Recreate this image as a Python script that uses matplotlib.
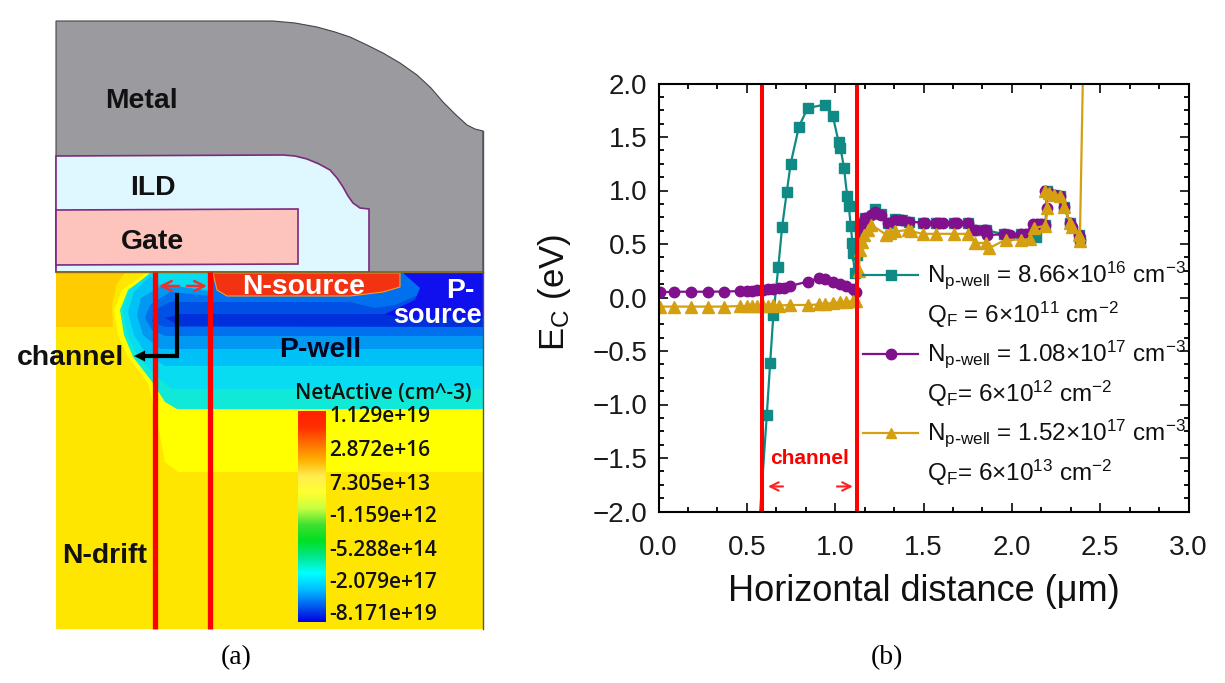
import numpy as np
import matplotlib
matplotlib.use('Agg')
import matplotlib.pyplot as plt
from matplotlib.colors import LinearSegmentedColormap
from matplotlib.patches import Polygon
from matplotlib.ticker import MultipleLocator

plt.rcParams['font.family'] = ['Liberation Sans', 'DejaVu Sans']
plt.rcParams['mathtext.default'] = 'regular'

# panel (b): conduction band edge along the channel cut
teal_x = [0.567, 0.613, 0.632, 0.65, 0.678, 0.70, 0.726, 0.748, 0.795, 0.844, 0.94, 0.987, 1.02, 1.03, 1.05,
          1.068, 1.077, 1.088, 1.098, 1.10, 1.11, 1.125, 1.14, 1.167, 1.224, 1.26, 1.30, 1.336, 1.38, 1.42,
          1.495, 1.57, 1.675, 1.75, 1.79, 1.855, 1.957, 2.05, 2.136, 2.165, 2.19, 2.20, 2.24, 2.27, 2.295,
          2.33, 2.38, 2.385]
teal_y = [-2.2, -1.10, -0.61, -0.164, 0.283, 0.663, 0.985, 1.25, 1.597, 1.77, 1.803, 1.694, 1.45, 1.40, 1.21,
          0.948, 0.857, 0.67, 0.508, 0.417, 0.232, 0.40, 0.62, 0.74, 0.826, 0.78, 0.70, 0.73, 0.72, 0.71,
          0.70, 0.70, 0.70, 0.70, 0.63, 0.63, 0.59, 0.595, 0.57, 0.69, 0.68, 1.00, 0.96, 0.945, 0.85,
          0.695, 0.585, 0.54]

purple_x = [0.01, 0.09, 0.186, 0.28, 0.37, 0.46, 0.50, 0.53, 0.56, 0.59, 0.62, 0.65, 0.68, 0.71, 0.745,
            0.844, 0.91, 0.94, 0.987, 1.03, 1.064, 1.10, 1.12, 1.14, 1.15, 1.167, 1.20, 1.224, 1.26, 1.30,
            1.336, 1.38, 1.42, 1.495, 1.51, 1.57, 1.59, 1.61, 1.675, 1.69, 1.75, 1.79, 1.84, 1.855, 1.86,
            1.957, 1.99, 2.05, 2.08, 2.117, 2.14, 2.165, 2.19, 2.20, 2.19, 2.21, 2.24, 2.27, 2.295, 2.33,
            2.34, 2.38, 2.385]
purple_y = [0.05, 0.054, 0.054, 0.054, 0.056, 0.06, 0.065, 0.065, 0.07, 0.07, 0.075, 0.08, 0.085, 0.09, 0.108,
            0.148, 0.18, 0.175, 0.148, 0.125, 0.108, 0.077, 0.054, 0.66, 0.70, 0.74, 0.77, 0.795, 0.77, 0.695,
            0.726, 0.72, 0.71, 0.70, 0.70, 0.70, 0.70, 0.70, 0.70, 0.70, 0.70, 0.63, 0.63, 0.63, 0.585,
            0.59, 0.585, 0.595, 0.595, 0.69, 0.69, 0.69, 0.68, 0.84, 1.00, 0.98, 0.96, 0.945, 0.85, 0.695,
            0.66, 0.585, 0.54]

gold_x = [0.01, 0.09, 0.186, 0.28, 0.37, 0.46, 0.50, 0.53, 0.56, 0.59, 0.62, 0.65, 0.68, 0.745,
          0.844, 0.91, 0.94, 0.987, 1.03, 1.064, 1.10, 1.12, 1.135, 1.14, 1.15, 1.165, 1.185, 1.205, 1.29,
          1.31, 1.336, 1.41, 1.43, 1.495, 1.57, 1.675, 1.75, 1.79, 1.855, 1.87, 1.965, 2.05, 2.10, 2.125,
          2.19, 2.20, 2.19, 2.21, 2.24, 2.27, 2.295, 2.33, 2.34, 2.38, 2.385, 2.405]
gold_y = [-0.085, -0.085, -0.085, -0.085, -0.085, -0.08, -0.08, -0.075, -0.08, -0.075, -0.075, -0.07, -0.075, -0.07,
          -0.07, -0.065, -0.06, -0.05, -0.045, -0.04, -0.035, -0.03, 0.25, 0.445, 0.52, 0.58, 0.63, 0.68, 0.585,
          0.60, 0.617, 0.63, 0.62, 0.595, 0.595, 0.595, 0.595, 0.51, 0.51, 0.46, 0.54, 0.54, 0.545, 0.65,
          0.67, 0.84, 1.00, 0.98, 0.96, 0.945, 0.85, 0.695, 0.66, 0.585, 0.53, 2.3]

channel_edges = [0.587, 1.122]
legend_n = ['8.66', '1.08', '1.52']
legend_exp = ['16', '17', '17']
legend_qf = ['Q$_{F}$ = 6×10$^{11}$ cm$^{-2}$', 'Q$_{F}$= 6×10$^{12}$ cm$^{-2}$', 'Q$_{F}$= 6×10$^{13}$ cm$^{-2}$']

# panel (a): device cross section outlines, in image pixels
metal_outline = [(56, 21), (273, 21), (295, 23), (317, 27), (335, 32), (350, 37), (367, 45), (383, 53), (400, 63),
                 (417, 75), (431, 88), (443, 102), (455, 114), (467, 125), (475, 129), (483, 131), (483, 272), (56, 272)]
ild_outline = [(56, 156), (283, 155), (295, 156), (307, 159), (319, 164), (330, 170), (337, 178), (343, 187),
               (348, 196), (353, 203), (360, 208), (369, 209), (369, 272), (56, 272)]
gate_outline = [(56, 210), (298, 209), (298, 264), (56, 265)]
light_yellow = [(483, 273), (483, 472), (178, 472), (165, 462), (157, 420), (148, 383), (128, 357), (118, 335),
                (114, 310), (122, 290), (146, 273)]
drift_orange = [(56, 273), (125, 273), (116, 285), (112, 305), (113, 327), (56, 327)]
well_layers = [
    ('#10e8d8', [(151, 273), (128, 290), (120, 310), (124, 335), (133, 357), (153, 383), (165, 402), (177, 409),
                 (483, 409), (483, 273)]),
    ('#08dcf0', [(150, 273), (130, 290), (123, 310), (128, 335), (138, 357), (158, 378), (172, 389),
                 (483, 389), (483, 273)]),
    ('#00c0f8', [(150, 276), (134, 292), (128, 312), (134, 335), (146, 354), (165, 366), (483, 366), (483, 273),
                 (212, 273), (212, 290), (160, 285)]),
    ('#0098f0', [(165, 284), (141, 298), (137, 315), (143, 335), (160, 349), (483, 349), (483, 273), (212, 273),
                 (212, 292)]),
    ('#0070ee', [(170, 292), (150, 305), (145, 318), (152, 330), (165, 336), (483, 336), (483, 273), (212, 273),
                 (212, 296)]),
    ('#0050e6', [(170, 302), (154, 310), (152, 322), (165, 327), (483, 327), (483, 290), (350, 302)]),
    ('#0030dc', [(180, 314), (165, 318), (180, 326), (483, 327), (483, 295), (420, 314)]),
]
p_source_blue = [(403, 273), (483, 273), (483, 318), (400, 318), (385, 314), (415, 300), (420, 288)]
p_source_mid = [(398, 273), (420, 273), (425, 292), (395, 305), (375, 308), (350, 302), (385, 293)]
n_source = [(213, 273), (400, 273), (400, 287), (383, 292), (350, 296), (227, 296), (217, 290)]
colorbar_stops = ['#ff2000', '#ff3000', '#ff7000', '#ffb000', '#ffee50', '#ffff30', '#c8ff40', '#40e030', '#00e020',
                  '#00e890', '#00ffff', '#00c0ff', '#0060f0', '#0000e0']
colorbar_labels = ['1.129e+19', '2.872e+16', '7.305e+13', '-1.159e+12', '-5.288e+14', '-2.079e+17', '-8.171e+19']
colorbar_label_y = [417, 451, 484, 517, 550, 582, 615]

fig = plt.figure(figsize=(12.25, 6.83), dpi=100)

ax_a = fig.add_axes([0, 0, 1, 1])
ax_a.set_axis_off()

ax_a.add_patch(Polygon(metal_outline, fc='#9b9b9f', ec='#444448', lw=0.8))
ax_a.add_patch(Polygon(ild_outline, fc='#dff7ff', ec='#7a2a80', lw=1.2))
ax_a.add_patch(Polygon(gate_outline, fc='#fcc4bc', ec='#7a2a80', lw=1.2))

ax_a.fill([56, 483, 483, 56], [272, 272, 629, 629], fc='#ffe600', lw=0)
ax_a.add_patch(Polygon(drift_orange, fc='#ffcc00', lw=0))
ax_a.add_patch(Polygon(light_yellow, fc='#ffff00', lw=0))
for color, outline in well_layers:
    ax_a.add_patch(Polygon(outline, fc=color, lw=0))
ax_a.add_patch(Polygon(p_source_mid, fc='#0070ee', lw=0))
ax_a.add_patch(Polygon(p_source_blue, fc='#1010ee', lw=0))
ax_a.add_patch(Polygon(n_source, fc='#f23210', ec='#ff9a20', lw=0.8))
ax_a.plot([56, 483], [272, 272], color='#8a6a20', lw=1)
ax_a.plot([483, 483], [131, 629], color='#555555', lw=1)

cmap = LinearSegmentedColormap.from_list('netactive', colorbar_stops)
ax_a.imshow(np.linspace(0, 1, 256)[:, None], cmap=cmap, aspect='auto', extent=(298, 326, 622, 411), zorder=3)

for label, y in zip(colorbar_labels, colorbar_label_y):
    ax_a.text(329, y, label, fontsize=15, family='Open Sans', fontweight='semibold', va='center', color='#111111')
ax_a.text(295, 393, 'NetActive (cm^-3)', fontsize=15, family='Open Sans', fontweight='semibold', va='center',
          color='#111111')

for x in (155, 210):
    ax_a.plot([x, x], [272, 629], color='#ff0000', lw=3.8, solid_capstyle='butt', zorder=4)

ax_a.annotate('', xy=(159, 286), xytext=(179, 286),
              arrowprops=dict(arrowstyle='->', color='#f03030', lw=1.8, mutation_scale=18, shrinkA=0, shrinkB=0))
ax_a.annotate('', xy=(207, 286), xytext=(187, 286),
              arrowprops=dict(arrowstyle='->', color='#f03030', lw=1.8, mutation_scale=18, shrinkA=0, shrinkB=0))
ax_a.plot([177, 177, 145], [295, 356, 356], color='black', lw=3, solid_joinstyle='miter', zorder=5)
ax_a.annotate('', xy=(134, 356), xytext=(150, 356), zorder=5,
              arrowprops=dict(arrowstyle='-|>', color='black', lw=0, mutation_scale=20, shrinkA=0, shrinkB=0))

bold = dict(fontweight='bold', ha='center', va='center', zorder=6)
ax_a.text(141, 101, 'Metal', fontsize=20.4, color='#111111', **bold)
ax_a.text(153, 188, 'ILD', fontsize=20.4, color='#111111', **bold)
ax_a.text(152, 242, 'Gate', fontsize=20.4, color='#111111', **bold)
ax_a.text(304, 287, 'N-source', fontsize=20.4, color='white', **bold)
ax_a.text(460, 291, 'P-', fontsize=20.4, color='white', **bold)
ax_a.text(437, 316, 'source', fontsize=19.5, color='white', **bold)
ax_a.text(320, 350, 'P-well', fontsize=20.4, color='#050520', **bold)
ax_a.text(71, 358, 'channel', fontsize=20.4, color='#111111', **bold)
ax_a.text(105, 556, 'N-drift', fontsize=20.4, color='#111111', **bold)

ax_a.text(236, 658, '(a)', fontsize=20, family='Liberation Serif', ha='center', va='center')
ax_a.text(887, 658, '(b)', fontsize=20, family='Liberation Serif', ha='center', va='center')

ax_a.set_xlim(0, 1225)
ax_a.set_ylim(683, 0)

ax = fig.add_axes([658.5 / 1225, 1 - 511.5 / 683, (1188.5 - 658.5) / 1225, (511.5 - 83.5) / 683])
ax.patch.set_alpha(0)

teal, purple, gold = '#0f8a84', '#80108c', '#d4a012'
ax.plot(teal_x, teal_y, '-s', color=teal, ms=6.5, lw=1.6)
ax.plot(purple_x, purple_y, '-o', color=purple, ms=7.5, lw=1.6)
ax.plot(gold_x, gold_y, '-^', color=gold, ms=8, lw=1.6)

for x in channel_edges:
    ax.axvline(x, color='#ff0000', lw=2.9)

ax.set_xlim(0, 3)
ax.set_ylim(-2, 2)
ax.xaxis.set_major_locator(MultipleLocator(0.5))
ax.xaxis.set_minor_locator(MultipleLocator(0.5 / 3))
ax.yaxis.set_major_locator(MultipleLocator(0.5))
ax.yaxis.set_minor_locator(MultipleLocator(0.125))
ax.xaxis.set_major_formatter(lambda v, pos: f'{v:.1f}')
ax.yaxis.set_major_formatter(lambda v, pos: f'{v:.1f}'.replace('-', '\u2212'))
ax.tick_params(which='major', direction='in', top=True, right=True, length=6.5, width=1.3, labelsize=20, pad=8,
               colors='#1a1a1a')
ax.tick_params(axis='x', which='major', pad=17)
ax.tick_params(which='minor', direction='in', top=True, right=True, length=3.5, width=1.3)
for spine in ax.spines.values():
    spine.set_linewidth(1.5)

ax.set_xlabel('Horizontal distance (μm)', fontsize=26, labelpad=9, color='#111111')
ax.set_ylabel('E$_{C}$ (eV)', fontsize=25, labelpad=14, color='#111111', y=0.513)

# hand placed key, sits in data coordinates like the original
colors = [teal, purple, gold]
markers = ['s', 'o', '^']
key_y = [0.21, -0.53, -1.27]
for i in range(3):
    ax.plot([1.16, 1.47], [key_y[i], key_y[i]], color=colors[i], lw=1.6)
    ax.plot([1.315], [key_y[i]], markers[i], color=colors[i], ms=7.5)
    ax.text(1.52, key_y[i], 'N$_{p\\text{-}well}$ = ' + legend_n[i] + '×10$^{' + legend_exp[i] + '}$ cm$^{-3}$',
            fontsize=17.5, va='center', color='#111111', clip_on=False)
    ax.text(1.52, key_y[i] - 0.37, legend_qf[i], fontsize=17.5, va='center', color='#111111')

ax.text(0.855, -1.503, 'channel', color='#ff0000', fontsize=15, fontweight='bold', ha='center', va='center')
ax.annotate('', xy=(0.62, -1.766), xytext=(0.705, -1.766),
            arrowprops=dict(arrowstyle='->', color='#ff2020', lw=1.5, mutation_scale=15, shrinkA=0, shrinkB=0))
ax.annotate('', xy=(1.10, -1.766), xytext=(1.01, -1.766),
            arrowprops=dict(arrowstyle='->', color='#ff2020', lw=1.5, mutation_scale=15, shrinkA=0, shrinkB=0))

fig.savefig('out.png', dpi=100)
